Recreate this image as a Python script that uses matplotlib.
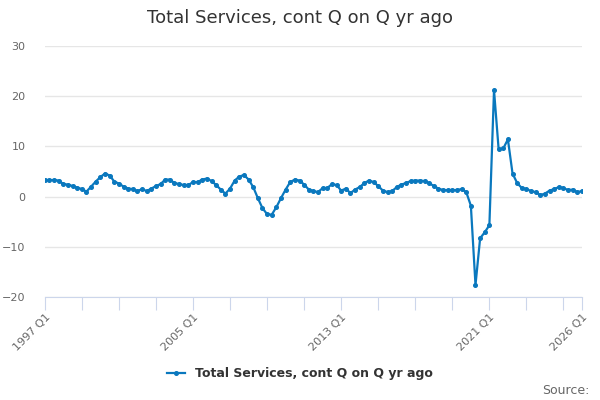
import numpy as np
import matplotlib
matplotlib.use('Agg')
import matplotlib.pyplot as plt

# quarterly series, 1997 Q1 .. 2026 Q1
first_year = 1997
values = [3.3, 3.3, 3.3, 3.2, 2.5, 2.4, 2.1, 1.8, 1.5, 1.0,
          2.0, 3.0, 3.9, 4.6, 4.2, 3.0, 2.6, 2.0, 1.6, 1.5,
          1.1, 1.5, 1.1, 1.6, 2.1, 2.5, 3.4, 3.4, 2.7, 2.5,
          2.3, 2.3, 2.9, 2.9, 3.4, 3.6, 3.1, 2.3, 1.4, 0.6,
          1.6, 3.2, 4.0, 4.3, 3.4, 1.9, -0.3, -2.3, -3.5, -3.6,
          -2.1, -0.3, 1.4, 2.9, 3.4, 3.2, 2.4, 1.4, 1.1, 0.9,
          1.7, 1.7, 2.5, 2.3, 1.2, 1.6, 0.7, 1.4, 1.9, 2.7,
          3.2, 2.9, 2.1, 1.2, 0.9, 1.1, 1.9, 2.4, 2.7, 3.1,
          3.2, 3.2, 3.1, 2.7, 2.1, 1.6, 1.3, 1.3, 1.3, 1.3,
          1.5, 0.9, -1.8, -17.6, -8.3, -7.1, -5.7, 21.2, 9.4, 9.6,
          11.4, 4.6, 2.7, 1.7, 1.5, 1.1, 0.9, 0.3, 0.6, 1.2,
          1.5, 1.9, 1.7, 1.3, 1.4, 0.9, 1.1]
quarters = ['%d Q%d' % (first_year + i // 4, i % 4 + 1) for i in range(len(values))]
series_name = 'Total Services, cont Q on Q yr ago'

blue = '#0a78be'
grid_col = '#e6e6e6'
axis_col = '#ccd6eb'

fig = plt.figure(figsize=(6, 4), dpi=100)
ax = fig.add_axes([0.0747, 0.2575, 0.8953, 0.6275])

x = np.arange(len(values))
ax.plot(x, values, color=blue, lw=1.6, marker='o', ms=2.6,
        label=series_name, zorder=3)

ax.set_xlim(0, len(values) - 1)
ax.set_ylim(-20, 30)
ax.set_yticks([-20, -10, 0, 10, 20, 30])
ax.yaxis.grid(True, color=grid_col, lw=1)
ax.set_axisbelow(True)

for s in ['top', 'right', 'left']:
    ax.spines[s].set_visible(False)
ax.spines['bottom'].set_color(axis_col)

ticks = list(range(0, len(values), 8)) + [len(values) - 1]
labels = [quarters[t] if (t % 32 == 0 or t == len(values) - 1) else '' for t in ticks]
ax.set_xticks(ticks)
ax.set_xticklabels(labels, rotation=45, ha='right', rotation_mode='anchor')
ax.tick_params(axis='x', length=9, color=axis_col, labelsize=8, labelcolor='#666666', pad=2)
ax.tick_params(axis='y', length=0, labelsize=8, labelcolor='#666666', pad=14)

fig.text(0.5, 0.955, 'Total Services, cont Q on Q yr ago', ha='center', va='center',
         fontsize=13, color='#333333')

leg = fig.legend(loc='center', bbox_to_anchor=(0.5, 0.065), frameon=False,
                 handlelength=1.4, fontsize=9)
for t in leg.get_texts():
    t.set_color('#333333')
    t.set_fontweight('bold')

fig.text(0.982, 0.025, 'Source:', ha='right', va='center', fontsize=9, color='#666666')

fig.savefig('out.png', dpi=100)
